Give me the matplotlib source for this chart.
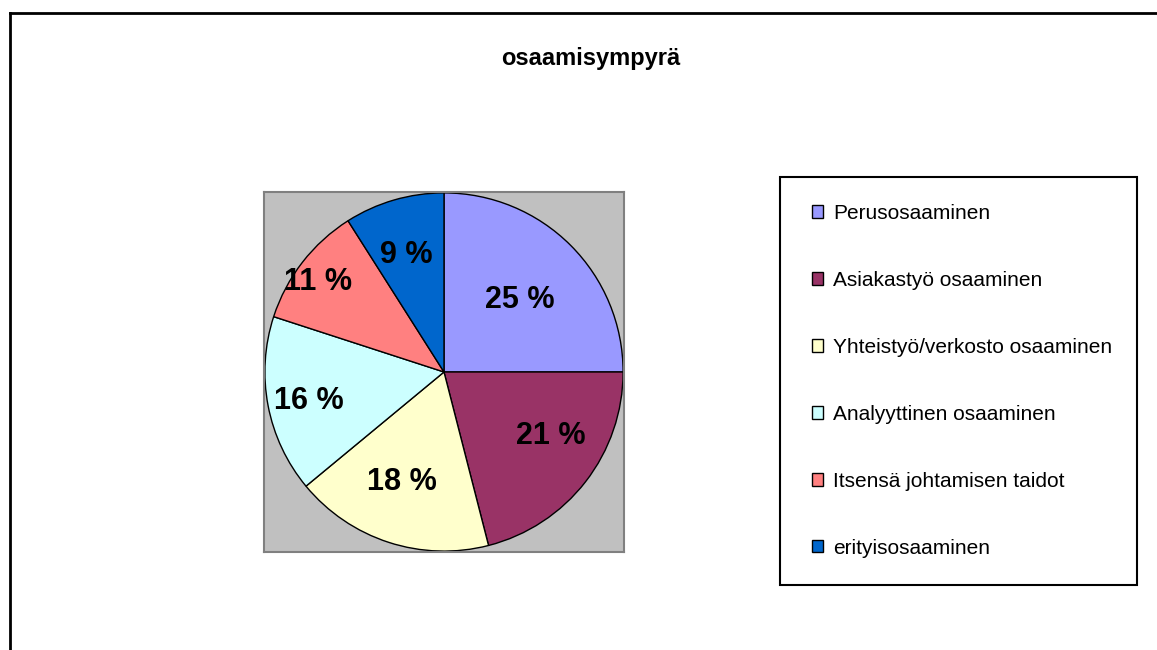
import numpy as np
import matplotlib
matplotlib.use("Agg")
import matplotlib.pyplot as plt
from matplotlib.patches import Rectangle, Patch
from matplotlib.lines import Line2D

plt.rcParams['font.family'] = ['Liberation Sans', 'DejaVu Sans']

# data
categories = ["Perusosaaminen", "Asiakastyö osaaminen", "Yhteistyö/verkosto osaaminen",
              "Analyyttinen osaaminen", "Itsensä johtamisen taidot", "erityisosaaminen"]
shares = [25, 21, 18, 16, 11, 9]
title = "osaamisympyrä"

# styling / label layout (radius as fraction of pie, angle nudge in degrees)
colors = ["#9999FF", "#993366", "#FFFFCC", "#CCFFFF", "#FF8080", "#0066CC"]
label_r = [0.58, 0.69, 0.655, 0.77, 0.86, 0.685]
label_dang = [-1.7, 6.9, -2.7, 1.1, 2.2, 1.8]

W, H = 1157, 650
fig = plt.figure(figsize=(W / 100, H / 100), dpi=100)

def fx(px):
    return px / W

def fy(py):
    return 1 - py / H

# outer chart frame (top and left edges visible)
fig.add_artist(Line2D([fx(9.5), 1.0], [fy(12.5), fy(12.5)], color="black", lw=2.0))
fig.add_artist(Line2D([fx(9.5), fx(9.5)], [fy(12.5), 0.0], color="black", lw=2.0))

fig.text(fx(591), fy(58), title, ha="center", va="center", fontsize=17, fontweight="bold")

# plot area
ax = fig.add_axes([fx(264), fy(552), fx(360), 360 / H])
wedges, _ = ax.pie(shares, colors=colors, startangle=90, counterclock=False,
                   radius=0.995, frame=True,
                   wedgeprops=dict(edgecolor="black", linewidth=1.0))
ax.set_facecolor("#C0C0C0")
for s in ax.spines.values():
    s.set_color("#808080")
    s.set_linewidth(1.5)
ax.set_xticks([])
ax.set_yticks([])
ax.set_xlim(-1, 1)
ax.set_ylim(-1, 1)
ax.set_aspect("equal")

for w, v, r, da in zip(wedges, shares, label_r, label_dang):
    mid = np.deg2rad((w.theta1 + w.theta2) / 2 + da)
    ax.text(r * np.cos(mid), r * np.sin(mid), f"{v} %", ha="center", va="center",
            fontsize=22, fontweight="bold")

# legend box
fig.add_artist(Rectangle((fx(780), fy(585)), fx(357), 408 / H, transform=fig.transFigure,
                         facecolor="white", edgecolor="black", lw=1.5))
handles = [Patch(facecolor=c, edgecolor="black", lw=1.0) for c in colors]
leg = fig.legend(handles, categories, loc="upper left",
                 bbox_to_anchor=(fx(812), fy(204)), frameon=False, fontsize=15,
                 handlelength=0.55, handleheight=0.55, handletextpad=0.45,
                 labelspacing=2.3, borderaxespad=0, borderpad=0)

fig.savefig("out.png", dpi=100)
